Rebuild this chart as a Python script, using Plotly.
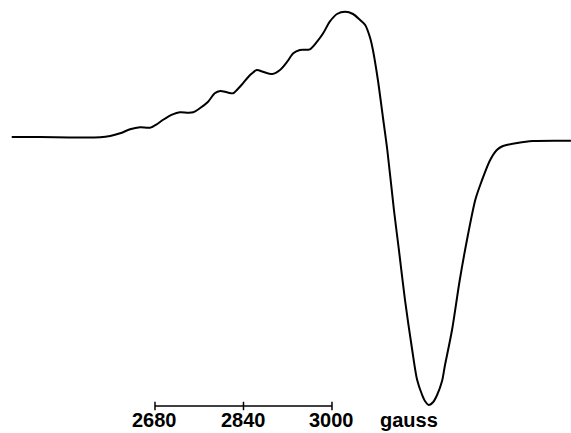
import plotly.graph_objects as go

# magnetic field (gauss) and derivative EPR signal (arbitrary units)
field = [2421, 2472, 2526, 2581, 2599, 2617, 2635, 2653, 2671, 2684, 2694, 2712,
         2725, 2740, 2749, 2761, 2776, 2788, 2798, 2810, 2821, 2828, 2839, 2852,
         2864, 2875, 2892, 2906, 2919, 2930, 2942, 2960, 2973, 2984, 2996, 3009,
         3024, 3038, 3051, 3060, 3069, 3074, 3083, 3092, 3100, 3112, 3121, 3132,
         3145, 3154, 3163, 3168, 3175, 3183, 3190, 3199, 3204, 3217, 3231, 3244,
         3259, 3268, 3286, 3298, 3309, 3335, 3363, 3432]
signal = [0, 0, -0.5, -0.3, 1, 3.7, 7.7, 9.7, 9.3, 13, 17, 22.7,
          24.7, 24.3, 24.7, 28.7, 35.3, 43.7, 46, 44.7, 43.7, 47, 53.7, 62,
          67, 65.3, 63, 67, 75.3, 83.7, 87, 87.7, 95.3, 103.7, 115.3, 123,
          125.3, 123, 117, 112, 99, 87, 57, 20, -13, -73, -113, -163,
          -213, -243, -258, -264, -268, -265, -258, -244, -229, -193, -143, -103,
          -63, -48, -23, -13, -9, -6, -4, -3.7]

scale_ticks = [2680, 2840, 3000]
scale_labels = ["2680", "2840", "3000"]
unit_label = "gauss"

bar_level = -269
label_level = -283
unit_x = 3139

fig = go.Figure()
fig.add_trace(go.Scatter(
    x=field, y=signal, mode="lines",
    line=dict(color="black", width=2, shape="spline", smoothing=0.8),
    hoverinfo="skip", showlegend=False))

# scale bar
fig.add_trace(go.Scatter(
    x=[scale_ticks[0], scale_ticks[-1]], y=[bar_level, bar_level], mode="lines",
    line=dict(color="black", width=1.5), hoverinfo="skip", showlegend=False))
fig.add_trace(go.Scatter(
    x=scale_ticks, y=[bar_level] * len(scale_ticks), mode="markers",
    marker=dict(symbol="line-ns", size=6, line=dict(color="black", width=1.5)),
    hoverinfo="skip", showlegend=False))

font = dict(family="Liberation Sans, Arial, sans-serif", size=20, color="black")
for t, lab in zip(scale_ticks, scale_labels):
    fig.add_annotation(x=t, y=label_level, text=f"<b>{lab}</b>", showarrow=False,
                       xanchor="center", yanchor="middle", font=font)
fig.add_annotation(x=unit_x, y=label_level, text=f"<b>{unit_label}</b>", showarrow=False,
                   xanchor="center", yanchor="middle", font=font)

fig.update_layout(
    width=571, height=433,
    margin=dict(l=0, r=0, t=0, b=0),
    paper_bgcolor="white", plot_bgcolor="white",
    xaxis=dict(range=[2399.8, 3432.1], visible=False, fixedrange=True),
    yaxis=dict(range=[-296, 137], visible=False, fixedrange=True),
)

fig.write_html("out.html")
